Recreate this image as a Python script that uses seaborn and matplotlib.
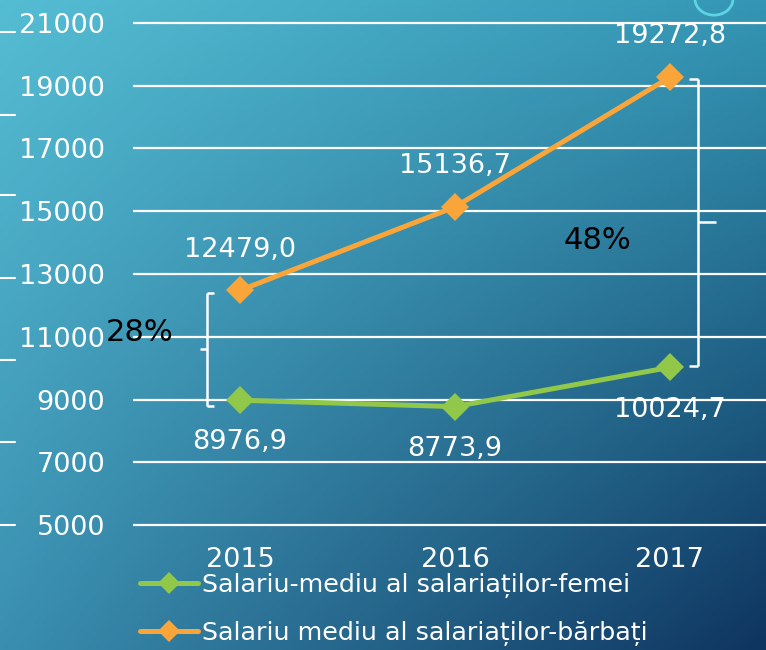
import numpy as np
import pandas as pd
import matplotlib
matplotlib.use("Agg")
import matplotlib.pyplot as plt
from matplotlib.lines import Line2D
from matplotlib.patches import Circle
import seaborn as sns

years = [2015, 2016, 2017]
women = [8976.9, 8773.9, 10024.7]
men = [12479.0, 15136.7, 19272.8]
women_labels = ["8976,9", "8773,9", "10024,7"]
men_labels = ["12479,0", "15136,7", "19272,8"]
series_names = ["Salariu-mediu al salariaților-femei", "Salariu mediu al salariaților-bărbați"]
yticks = [5000, 7000, 9000, 11000, 13000, 15000, 17000, 19000, 21000]
gap_labels = ["28%", "48%"]

GREEN = "#92C84A"
ORANGE = "#F9A53A"

sns.set_theme(style="white")
plt.rcParams["font.family"] = ["DejaVu Sans"]

fig = plt.figure(figsize=(7.66, 6.5), dpi=100)

# background gradient
bg = fig.add_axes([0, 0, 1, 1])
tl = np.array([85, 189, 211]) / 255
tr = np.array([52, 150, 180]) / 255
bl = np.array([58, 143, 176]) / 255
br = np.array([14, 52, 95]) / 255
u = np.linspace(0, 1, 200)[None, :, None]
v = np.linspace(0, 1, 200)[:, None, None]
img = (1 - u) * (1 - v) * tl + u * (1 - v) * tr + (1 - u) * v * bl + u * v * br
bg.imshow(img, aspect="auto", extent=[0, 1, 0, 1], origin="upper")
bg.set_xlim(0, 1)
bg.set_ylim(0, 1)
bg.axis("off")
# decorative left dashes
for yp in [32, 115, 195, 278, 360, 442, 525]:
    bg.plot([0, 15 / 766], [1 - yp / 650] * 2, color="white", lw=1.5)
bg.add_patch(Circle((714 / 766, 1 + 1 / 650), 19 / 766, transform=bg.transAxes,
                    fill=False, ec="#5FD3E6", lw=2, clip_on=False))

ax = fig.add_axes([133 / 766, 1 - 531.3 / 650, 1 - 133 / 766, (531.3 - 16.7) / 650])
ax.patch.set_alpha(0)

df = pd.DataFrame({
    "year": years * 2,
    "value": women + men,
    "series": [series_names[0]] * 3 + [series_names[1]] * 3,
})
sns.lineplot(data=df, x="year", y="value", hue="series",
             palette=[GREEN, ORANGE], marker="D", markersize=14,
             markeredgewidth=0, linewidth=3.6, ax=ax, legend=False, zorder=5)

ax.set_xlim(2014.502, 2017.447)
ax.set_ylim(4800, 21200)
ax.set_yticks(yticks)
ax.set_yticklabels([str(t) for t in yticks])
ax.set_xticks(years)
ax.set_xticklabels([str(y) for y in years])
ax.grid(axis="y", color="white", lw=1.6)
ax.grid(axis="x", visible=False)
for s in ax.spines.values():
    s.set_visible(False)
ax.tick_params(axis="y", length=0, pad=20, labelsize=19.5, labelcolor="white")
ax.tick_params(axis="x", length=0, pad=11, labelsize=19.5, labelcolor="white")
ax.set_xlabel("")
ax.set_ylabel("")

# data labels
for x, v, lab in zip(years, men, men_labels):
    ax.annotate(lab, (x, v), xytext=(0, 20), textcoords="offset points",
                ha="center", va="bottom", color="white", fontsize=19.5)
for x, v, lab in zip(years, women, women_labels):
    ax.annotate(lab, (x, v), xytext=(0, -21), textcoords="offset points",
                ha="center", va="top", color="white", fontsize=19.5)

# braces
def brace(xc, top, bot, side, hook, tick):
    mid = (top + bot) / 2
    kw = dict(color="white", lw=1.8, clip_on=False, solid_capstyle="butt", zorder=4)
    ax.plot([xc, xc], [bot, top], **kw)
    ax.plot([xc, xc + side * hook], [top, top], **kw)
    ax.plot([xc, xc + side * hook], [bot, bot], **kw)
    ax.plot([xc, xc - side * tick], [mid, mid], **kw)

brace(years[0] - 0.153, men[0] - 70, women[0] - 170, 1, 0.032, 0.032)
brace(years[2] + 0.13, men[2] - 60, women[2] + 50, -1, 0.04, 0.085)

ax.text(years[0] - 0.465, 11150, gap_labels[0], color="black", fontsize=22,
        ha="center", va="center", zorder=6)
ax.text(years[1] + 0.665, 14080, gap_labels[1], color="black", fontsize=22,
        ha="center", va="center", zorder=6)

# legend
handles = [Line2D([], [], color=GREEN, lw=3.6, marker="D", markersize=11, markeredgewidth=0),
           Line2D([], [], color=ORANGE, lw=3.6, marker="D", markersize=11, markeredgewidth=0)]
fig.legend(handles, series_names, loc="upper left", bbox_to_anchor=(140 / 766, 1 - 573 / 650),
           frameon=False, fontsize=18.3, labelcolor="white", handlelength=2.3,
           handletextpad=0.15, labelspacing=0.9, borderaxespad=0, borderpad=0)

fig.savefig("out.png", dpi=100)
